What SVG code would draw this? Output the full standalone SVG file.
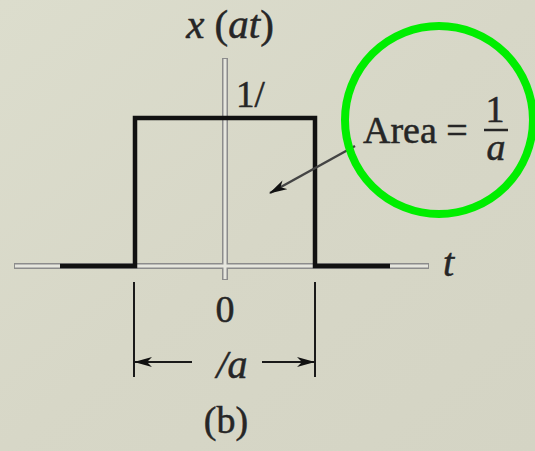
<svg xmlns="http://www.w3.org/2000/svg" width="535" height="451" viewBox="0 0 535 451">
<defs>
<linearGradient id="bg" x1="0" y1="0" x2="1" y2="1">
<stop offset="0" stop-color="#dcddcd"/>
<stop offset="0.5" stop-color="#d7d7c7"/>
<stop offset="1" stop-color="#d4d4c4"/>
</linearGradient>
<marker id="ah" viewBox="0 0 18 10" refX="17" refY="5" markerWidth="18" markerHeight="10" markerUnits="userSpaceOnUse" orient="auto">
<path d="M0,0 L18,5 L0,10 L5,5 Z" fill="#111"/>
</marker>
<style>
.t{font-family:"Liberation Serif","Times New Roman",serif;fill:#262626;stroke:#262626;stroke-width:0.5}
.i{font-style:italic}
.axo{stroke:#8c8c8c;stroke-width:6;fill:none}
.axi{stroke:#e6e6de;stroke-width:3;fill:none}
.pulse{stroke:#111;stroke-width:4.5;fill:none;stroke-linejoin:miter}
.dim{stroke:#1a1a1a;stroke-width:2;fill:none}
</style>
</defs>
<rect width="535" height="451" fill="url(#bg)"/>
<g id="axes">
<path class="axo" d="M14,266 H429 M225,58 V280"/>
<path class="axi" d="M15,266 H428 M225,59 V279"/>
</g>
<g id="pulse">
<path class="pulse" d="M60,266 H135 V118 H315 V266 H390"/>
</g>
<g id="labels">
<text class="t" x="230" y="38" font-size="41" text-anchor="middle"><tspan class="i">x</tspan> (<tspan class="i">at</tspan>)</text>
<text class="t" x="236" y="107" font-size="37">1/</text>
<text class="t i" x="443" y="276" font-size="40">t</text>
<text class="t" x="225" y="322" font-size="38" text-anchor="middle">0</text>
<text class="t i" x="232" y="378" font-size="40" text-anchor="middle">/a</text>
<text class="t" x="226" y="433" font-size="38" text-anchor="middle">(b)</text>
</g>
<g id="area-label">
<text class="t" x="363" y="143" font-size="38">Area =</text>
<text class="t" x="495" y="122" font-size="38" text-anchor="middle">1</text>
<line x1="484" y1="130" x2="508" y2="130" stroke="#262626" stroke-width="2.5"/>
<text class="t i" x="496" y="160" font-size="38" text-anchor="middle">a</text>
</g>
<g id="connectors">
<line x1="355" y1="146" x2="270" y2="193" stroke="#444" stroke-width="2.5" marker-end="url(#ah)"/>
<line class="dim" x1="134" y1="282" x2="134" y2="377"/>
<line class="dim" x1="315" y1="282" x2="315" y2="377"/>
<line class="dim" x1="192" y1="362" x2="135" y2="362" marker-end="url(#ah)"/>
<line class="dim" x1="262" y1="362" x2="314" y2="362" marker-end="url(#ah)"/>
</g>
<g id="highlight">
<circle cx="439" cy="120" r="94" fill="none" stroke="#00ee00" stroke-width="8"/>
</g>
</svg>
